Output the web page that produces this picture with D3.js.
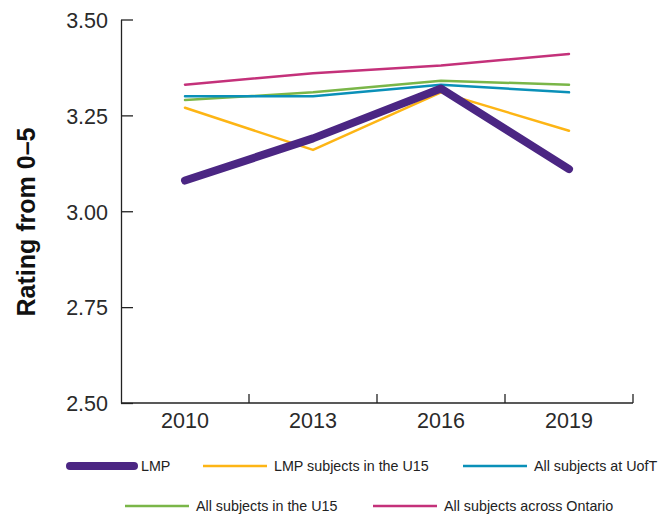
<!DOCTYPE html>
<html>
<head>
<meta charset="utf-8">
<script src="https://cdn.jsdelivr.net/npm/d3@7"></script>
<style>
  body { margin: 0; background: #fff; }
  text { font-family: 'Liberation Sans', Arial, sans-serif; }
</style>
</head>
<body>
<script>
// Data
const years = ['2010', '2013', '2016', '2019']
const yTicks = [2.5, 2.75, 3.0, 3.25, 3.5]

const lmp = [3.08, 3.19, 3.32, 3.11]
const lmpU15 = [3.27, 3.16, 3.31, 3.21]
const allUofT = [3.30, 3.30, 3.33, 3.31]
const allU15 = [3.29, 3.31, 3.34, 3.33]
const allOntario = [3.33, 3.36, 3.38, 3.41]

const series = [
  { name: 'All subjects across Ontario', values: allOntario, color: '#c4317a', width: 2.5 },
  { name: 'All subjects in the U15', values: allU15, color: '#7ab648', width: 2.5 },
  { name: 'All subjects at UofT', values: allUofT, color: '#0a90b8', width: 2.5 },
  { name: 'LMP subjects in the U15', values: lmpU15, color: '#fdb515', width: 2.5 },
  { name: 'LMP', values: lmp, color: '#4b2683', width: 8 }
]

const width = 671
const height = 517
const plotLeft = 121, plotRight = 633, plotTop = 19.5, plotBottom = 403

const svg = d3.select('body').append('svg')
  .attr('width', width)
  .attr('height', height)

const xScale = d3.scaleBand()
  .domain(years)
  .range([plotLeft, plotRight])
const yScale = d3.scaleLinear()
  .domain([2.5, 3.5])
  .range([plotBottom, plotTop])

// Y axis (ticks point inward)
const yAxis = svg.append('g')
  .attr('transform', `translate(${plotLeft},0)`)
  .call(d3.axisRight(yScale).tickValues(yTicks).tickFormat(d3.format('.2f')).tickSize(12).tickSizeOuter(0))
yAxis.select('.domain').attr('stroke', '#222').attr('stroke-width', 1.3)
yAxis.selectAll('.tick line').attr('stroke', '#222').attr('stroke-width', 1.3)
yAxis.selectAll('.tick text')
  .attr('x', -13)
  .attr('dy', '0.36em')
  .attr('text-anchor', 'end')
  .attr('font-size', 21.5)
  .attr('fill', '#2a2a2a')

// X axis: ticks at band boundaries pointing up
const xAxis = svg.append('g')
  .attr('transform', `translate(0,${plotBottom})`)
xAxis.append('line')
  .attr('x1', plotLeft).attr('x2', plotRight)
  .attr('stroke', '#222').attr('stroke-width', 1.3)
xAxis.selectAll('.xtick')
  .data(years)
  .enter()
  .append('line')
  .attr('x1', d => xScale(d) + xScale.step())
  .attr('x2', d => xScale(d) + xScale.step())
  .attr('y1', 0).attr('y2', -9)
  .attr('stroke', '#222').attr('stroke-width', 1.3)
xAxis.selectAll('.xlabel')
  .data(years)
  .enter()
  .append('text')
  .attr('x', d => xScale(d) + xScale.bandwidth() / 2)
  .attr('y', 24.5)
  .attr('text-anchor', 'middle')
  .attr('font-size', 21.5)
  .attr('fill', '#2a2a2a')
  .text(d => d)

// Y label
svg.append('text')
  .attr('transform', 'translate(35,222) rotate(-90)')
  .attr('text-anchor', 'middle')
  .attr('font-size', 25)
  .attr('font-weight', 'bold')
  .attr('fill', '#111')
  .text('Rating from 0–5')

// Lines
const line = d3.line()
  .x((d, i) => xScale(years[i]) + xScale.bandwidth() / 2)
  .y(d => yScale(d))

svg.selectAll('.series')
  .data(series)
  .enter()
  .append('path')
  .attr('d', d => line(d.values))
  .attr('fill', 'none')
  .attr('stroke', d => d.color)
  .attr('stroke-width', d => d.width)
  .attr('stroke-linecap', 'round')
  .attr('stroke-linejoin', 'round')

// Legend
const legendItems = [
  { s: series[4], x: 70, y: 466 },
  { s: series[3], x: 203, y: 466 },
  { s: series[2], x: 463, y: 466 },
  { s: series[1], x: 125, y: 506 },
  { s: series[0], x: 373, y: 506 }
]
const legend = svg.append('g')
legend.selectAll('line')
  .data(legendItems)
  .enter()
  .append('line')
  .attr('x1', d => d.x)
  .attr('x2', d => d.x + 64)
  .attr('y1', d => d.y)
  .attr('y2', d => d.y)
  .attr('stroke', d => d.s.color)
  .attr('stroke-width', d => d.s.width)
  .attr('stroke-linecap', d => d.s.width > 4 ? 'round' : 'butt')
legend.selectAll('text')
  .data(legendItems)
  .enter()
  .append('text')
  .attr('x', d => d.x + 71)
  .attr('y', d => d.y + 5)
  .attr('font-size', 14.3)
  .attr('fill', '#222')
  .text(d => d.s.name)
</script>
</body>
</html>
